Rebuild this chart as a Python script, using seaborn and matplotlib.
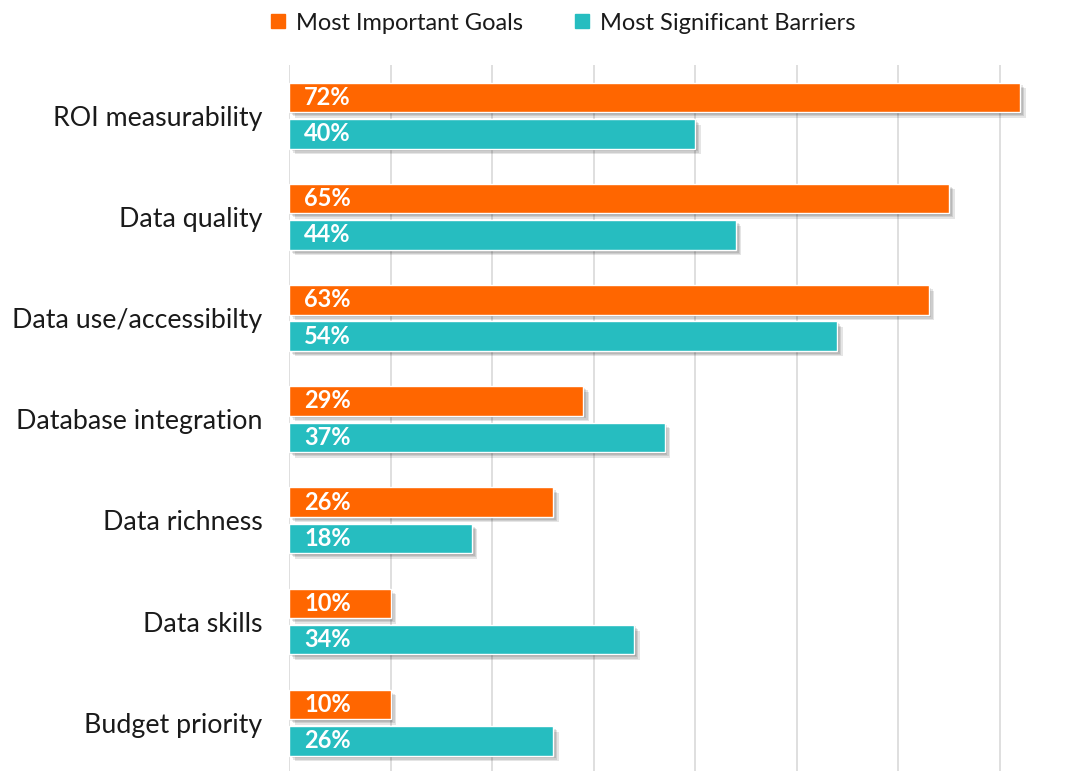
import matplotlib
matplotlib.use("Agg")
import matplotlib.pyplot as plt
import matplotlib.patheffects as pe
from matplotlib.lines import Line2D
import seaborn as sns
import pandas as pd

categories = ["ROI measurability", "Data quality", "Data use/accessibilty",
              "Database integration", "Data richness", "Data skills", "Budget priority"]
goals = [72, 65, 63, 29, 26, 10, 10]
barriers = [40, 44, 54, 37, 18, 34, 26]
series = ["Most Important Goals", "Most Significant Barriers"]
colors = ["#FF6600", "#26BDC0"]

df = pd.DataFrame({
    "category": categories * 2,
    "value": goals + barriers,
    "series": [series[0]] * len(categories) + [series[1]] * len(categories),
})

sns.set_theme(style="white")
plt.rcParams["font.family"] = ["Lato", "DejaVu Sans"]

fig = plt.figure(figsize=(10.88, 7.71), dpi=100)
ax = fig.add_axes([0.2656, -0.003, 0.7280, 0.9187])

sns.barplot(data=df, y="category", x="value", hue="series", order=categories,
            hue_order=series, palette=colors, orient="h", width=0.72, gap=0.19,
            saturation=1, legend=False, ax=ax, zorder=3)

# soft drop shadow built from a few stacked translucent offsets
shadow = [pe.SimplePatchShadow(offset=(d, -d), shadow_rgbFace="black", alpha=0.1)
          for d in (1.0, 2.0, 3.0, 4.0)] + [pe.Normal()]
for container in ax.containers:
    for bar, val in zip(container, container.datavalues):
        bar.set_path_effects(shadow)
        ax.annotate(f"{val:.0f}%", (bar.get_x(), bar.get_y() + bar.get_height() / 2),
                    xytext=(11, 0), textcoords="offset points", ha="left", va="center",
                    color="white", fontsize=17, fontweight="bold", zorder=5)

ax.set_xlim(0, 78)
ax.set_ylim(6.5, -0.5)
ax.set_xticks(range(0, 80, 10))
ax.set_xticklabels([])
ax.grid(axis="x", color="#D9D9D9", linewidth=1.2, zorder=0)
ax.set_axisbelow(True)
ax.set_xlabel("")
ax.set_ylabel("")
ax.tick_params(axis="y", length=0, pad=19, labelsize=19.3, labelcolor="#1a1a1a")
ax.tick_params(axis="x", length=0)
for s in ax.spines.values():
    s.set_visible(False)

handles = [Line2D([0], [0], marker="s", linestyle="", markersize=9.5,
                  markerfacecolor=c, markeredgecolor=c) for c in colors]
fig.legend(handles, series, loc="center", bbox_to_anchor=(0.51, 0.970), ncol=2,
           frameon=False, fontsize=17, handletextpad=-0.25, columnspacing=1.5,
           labelcolor="#1a1a1a")

fig.savefig("out.png", dpi=100)
